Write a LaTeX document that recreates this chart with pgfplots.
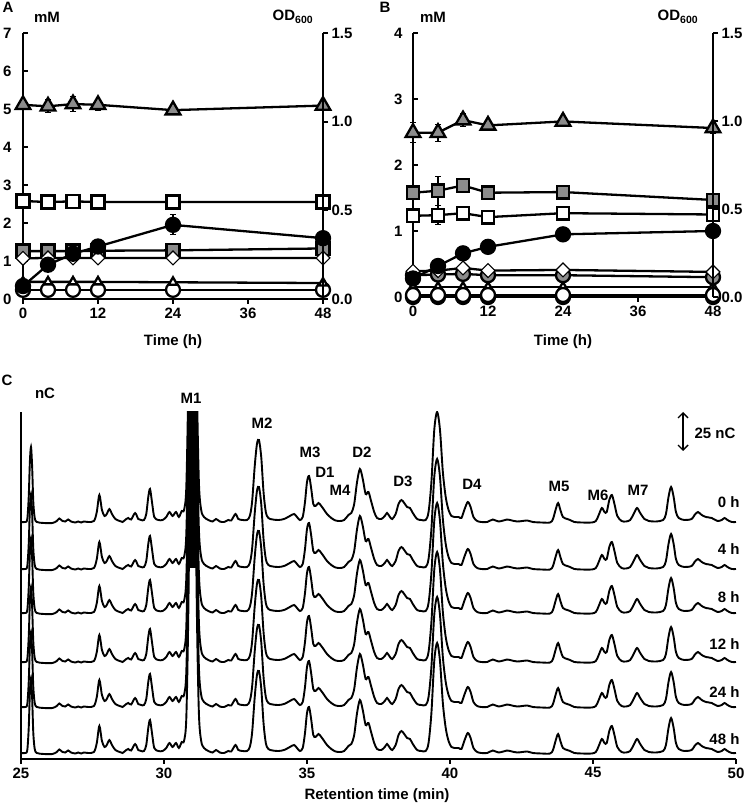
\documentclass[border=0pt]{standalone}
\usepackage{fontspec}
\setmainfont{Liberation Sans}
\usepackage{pgfplots}
\usepackage{pgfplotstable}
\pgfplotsset{compat=1.18}
\usetikzlibrary{arrows.meta}
\definecolor{mgray}{RGB}{140,140,140}

\pgfplotstableread{
t h
25.00 0
25.15 0
25.22 3
25.27 25
25.31 60
25.35 75
25.39 55
25.43 20
25.48 4
25.55 0
25.8 -1
26.1 -1
26.25 1
26.34 3.5
26.45 1
26.55 0.5
26.65 2.5
26.75 0.5
26.9 -0.5
27.0 0.5
27.1 -0.5
27.2 0.5
27.35 0
27.55 1
27.65 10
27.74 27
27.83 12
27.92 6
28.0 8
28.09 13
28.18 8
28.3 3
28.45 1
28.55 0
28.68 3
28.75 4
28.85 2.5
28.99 9
29.1 3
29.2 2
29.3 2
29.38 8
29.45 25
29.51 33
29.58 20
29.66 5
29.8 2
29.95 2
30.08 5
30.19 10
30.3 6
30.42 10
30.52 5
30.62 11
30.7 12
30.78 35
30.85 140
30.92 320
31.0 420
31.08 320
31.15 140
31.22 40
31.3 12
31.4 5
31.55 2
31.7 0.5
31.82 3
31.95 0.5
32.1 0
32.25 2
32.35 1.5
32.5 8
32.6 3
32.75 2
32.9 2
33.0 6
33.08 20
33.17 55
33.25 78
33.32 82
33.4 65
33.48 30
33.56 10
33.65 4
33.8 2.5
34.0 2
34.2 3
34.4 6
34.55 8
34.65 5
34.75 2
34.85 5
34.93 20
35.0 40
35.07 46
35.14 35
35.22 18
35.3 16
35.4 19
35.5 16
35.6 12
35.7 8
35.85 4
36.0 1.5
36.15 1
36.3 2
36.45 7
36.55 9
36.65 18
36.75 40
36.85 53
36.95 43
37.05 28
37.15 30
37.25 20
37.35 10
37.45 4
37.6 3
37.72 6
37.8 9
37.9 5
37.98 3
38.1 8
38.2 18
38.3 22
38.4 19
38.5 15
38.6 14
38.7 9
38.85 3
39.0 2
39.15 2
39.25 10
39.35 40
39.45 92
39.55 110
39.65 92
39.75 50
39.85 25
39.95 12
40.05 6
40.15 5
40.3 5
40.4 4
40.5 12
40.62 20
40.72 15
40.82 5
40.95 1
41.1 0
41.3 0
41.5 2.5
41.7 0.5
42.0 2.5
42.1 2
42.35 0.5
42.7 1.5
42.9 0
43.2 -0.5
43.5 -0.5
43.6 3
43.7 13
43.78 19
43.86 12
43.95 5
44.1 3
44.2 2
44.35 0
44.6 -0.5
44.95 -0.5
45.1 1
45.2 7
45.31 14
45.4 10
45.48 10
45.57 22
45.66 27
45.75 18
45.85 6
46.0 1
46.15 0.5
46.3 2
46.42 8
46.54 14
46.65 9
46.8 3
46.95 1
47.2 0.5
47.45 2
47.55 8
47.64 25
47.73 35
47.82 25
47.9 10
48.0 4
48.2 2
48.45 3
48.55 7
48.67 10
48.8 7
48.95 5
49.15 4
49.35 1
49.5 2
49.6 4
49.7 2
49.85 0
50.0 0
}\chrom

\pgfplotsset{
  /pgf/number format/assume math mode=true,
  panel/.style={
    scale only axis, anchor=south west,
    tick style={line width=1.8pt, black},
    major tick length=5pt,
    tick label style={font=\bfseries\fontsize{15}{17}\selectfont},
    clip=false,
  },
  noarrows/.style={axis line style={line width=2.4pt,-},
    every outer x axis line/.append style={-},
    every outer y axis line/.append style={-}},
  ser/.style={line width=2.3pt, black, mark options={solid, draw=black, line width=1.1pt}},
  err/.style={error bars/y dir=both, error bars/y explicit,
    error bars/error bar style={line width=1.1pt, black},
    error bars/error mark options={rotate=90, mark size=3pt, line width=1.1pt, black}},
  dia/.style={mark=square*, mark options={rotate=45, fill=white, draw=black, line width=1.1pt}, mark size=4.9pt},
  trace/.style={line width=1.9pt, black, smooth, tension=0.5},
  m1fill/.style={fill=black, draw=black, line width=1.9pt, smooth, tension=0.5, restrict x to domain=30.84:31.16},
}

\begin{document}
\begin{tikzpicture}[font=\bfseries\fontsize{15}{17}\selectfont]
\useasboundingbox (0,0) rectangle (750pt,809pt);

% ---------------- Panel A ----------------
\begin{axis}[panel, at={(23pt,510pt)}, width=300pt, height=266pt,
  xmin=0, xmax=48, ymin=0, ymax=7,
  axis x line=bottom, axis y line=left, noarrows,
  xtick={0,12,24,36,48}, ytick={0,1,...,7},
  xtick align=outside, ytick align=inside,
  y tick label style={xshift=-8pt}]
\addplot[ser, mark=*, mark size=7pt, mark options={fill=white}] coordinates {(0,0.24)(4,0.24)(8,0.24)(12,0.24)(24,0.24)(48,0.24)};
\addplot[ser, mark=triangle*, mark size=5pt, mark options={fill=white}] coordinates {(0,0.45)(4,0.45)(8,0.45)(12,0.45)(24,0.44)(48,0.42)};
\addplot[ser, mark=square*, mark size=6.5pt, mark options={fill=mgray}] coordinates {(0,1.26)(4,1.26)(8,1.26)(12,1.27)(24,1.28)(48,1.33)};
\addplot[ser, dia] coordinates {(0,1.07)(4,1.08)(8,1.08)(12,1.08)(24,1.08)(48,1.08)};
\addplot[ser, mark=square*, mark size=6.5pt, mark options={fill=white}] coordinates {(0,2.58)(4,2.55)(8,2.57)(12,2.55)(24,2.55)(48,2.55)};
\addplot[ser, err, mark=triangle*, mark size=8.5pt, mark options={fill=mgray}] coordinates {
 (0,5.11) +- (0,0)
 (4,5.07) +- (0,0.17)
 (8,5.13) +- (0,0.2)
 (12,5.11) +- (0,0.15)
 (24,4.97) +- (0,0)
 (48,5.09) +- (0,0.12)};
\end{axis}
\begin{axis}[panel, at={(23pt,510pt)}, width=300pt, height=266pt,
  xmin=0, xmax=48, ymin=0, ymax=1.5,
  axis x line=none, axis y line=right, noarrows,
  ytick={0,0.5,1,1.5}, ytick align=outside,
  y tick label style={/pgf/number format/.cd, fixed, fixed zerofill, precision=1, /tikz/.cd}]
\addplot[ser, err, mark=*, mark size=7pt, mark options={fill=black}] coordinates {
 (0,0.073) +- (0,0)
 (4,0.193) +- (0,0)
 (8,0.255) +- (0,0)
 (12,0.296) +- (0,0)
 (24,0.418) +- (0,0.056)
 (48,0.343) +- (0,0)};
\end{axis}

% ---------------- Panel B ----------------
\begin{axis}[panel, at={(413pt,512pt)}, width=300pt, height=264pt,
  xmin=0, xmax=48, ymin=0, ymax=4,
  axis x line=bottom, axis y line=left, noarrows,
  xtick={0,12,24,36,48}, ytick={0,1,...,4},
  xtick align=outside, ytick align=inside,
  y tick label style={xshift=-7pt}]
\addplot[ser, mark=*, mark size=7pt, mark options={fill=white}] coordinates {(0,0.0)(4,0.0)(8,0.0)(12,0.0)(24,0.0)(48,0.0)};
\addplot[ser, mark=triangle*, mark size=5pt, mark options={fill=white}] coordinates {(0,0.15)(4,0.15)(8,0.15)(12,0.15)(24,0.15)(48,0.15)};
\addplot[ser, mark=*, mark size=7pt, mark options={fill=white}] coordinates {(0,0.03)(4,0.03)(8,0.03)(12,0.03)(24,0.03)(48,0.03)};
\addplot[ser, mark=*, mark size=7pt, mark options={fill=mgray}] coordinates {(0,0.33)(4,0.34)(8,0.35)(12,0.33)(24,0.33)(48,0.3)};
\addplot[ser, dia] coordinates {(0,0.39)(4,0.4)(8,0.44)(12,0.4)(24,0.41)(48,0.38)};
\addplot[ser, err, mark=square*, mark size=6.3pt, mark options={fill=white}] coordinates {
 (0,1.23) +- (0,0)
 (4,1.24) +- (0,0.14)
 (8,1.27) +- (0,0.08)
 (12,1.21) +- (0,0)
 (24,1.27) +- (0,0)
 (48,1.25) +- (0,0)};
\addplot[ser, err, mark=square*, mark size=6.3pt, mark options={fill=mgray}] coordinates {
 (0,1.58) +- (0,0.09)
 (4,1.61) +- (0,0.22)
 (8,1.69) +- (0,0.05)
 (12,1.58) +- (0,0)
 (24,1.59) +- (0,0)
 (48,1.47) +- (0,0)};
\addplot[ser, err, mark=triangle*, mark size=8.5pt, mark options={fill=mgray}] coordinates {
 (0,2.49) +- (0,0.15)
 (4,2.49) +- (0,0.13)
 (8,2.68) +- (0,0.1)
 (12,2.6) +- (0,0.03)
 (24,2.66) +- (0,0.03)
 (48,2.56) +- (0,0.08)};
\end{axis}
\begin{axis}[panel, at={(413pt,512pt)}, width=300pt, height=264pt,
  xmin=0, xmax=48, ymin=0, ymax=1.5,
  axis x line=none, axis y line=right, noarrows,
  ytick={0,0.5,1,1.5}, ytick align=outside,
  y tick label style={/pgf/number format/.cd, fixed, fixed zerofill, precision=1, /tikz/.cd}]
\addplot[ser, mark=*, mark size=7pt, mark options={fill=black}] coordinates {
 (0,0.105)(4,0.176)(8,0.248)(12,0.285)(24,0.356)(48,0.375)};
\end{axis}

% ---------------- Panel C ----------------
\begin{axis}[panel, at={(21pt,50pt)}, width=715pt, height=347pt,
  xmin=25, xmax=50, ymin=0, ymax=347, clip=true,
  axis x line=bottom, axis y line=left, noarrows,
  xtick={25,30,...,50}, ytick=\empty, xtick align=outside]
\addplot[trace] table[x=t, y expr=\thisrow{h}+237] {\chrom};
\addplot[trace] table[x=t, y expr=\thisrow{h}+190] {\chrom};
\addplot[trace] table[x=t, y expr=\thisrow{h}+146] {\chrom};
\addplot[trace] table[x=t, y expr=\thisrow{h}+97] {\chrom};
\addplot[trace] table[x=t, y expr=\thisrow{h}+52] {\chrom};
\addplot[trace] table[x=t, y expr=\thisrow{h}+6] {\chrom};
% dense overlap of the M1 peaks
\addplot[m1fill] table[x=t, y expr=\thisrow{h}+237] {\chrom} -- cycle;
\addplot[m1fill] table[x=t, y expr=\thisrow{h}+190] {\chrom} -- cycle;
\addplot[m1fill] table[x=t, y expr=\thisrow{h}+146] {\chrom} -- cycle;
\addplot[m1fill] table[x=t, y expr=\thisrow{h}+97] {\chrom} -- cycle;
\addplot[m1fill] table[x=t, y expr=\thisrow{h}+52] {\chrom} -- cycle;
\end{axis}

% ---------------- Text ----------------
\node at (8pt,802pt) {A};
\node at (47pt,792pt) {mM};
\node at (293pt,792pt) {OD\textsubscript{600}};
\node at (173pt,467pt) {Time (h)};
\node at (385pt,802pt) {B};
\node at (433pt,792pt) {mM};
\node at (678pt,792pt) {OD\textsubscript{600}};
\node at (563pt,467pt) {Time (h)};
\node at (7pt,429pt) {C};
\node at (45pt,416pt) {nC};
\node at (191pt,411pt) {M1};
\node at (262pt,386pt) {M2};
\node at (310pt,357pt) {M3};
\node at (325pt,337pt) {D1};
\node at (340pt,319pt) {M4};
\node at (362pt,357pt) {D2};
\node at (403pt,328pt) {D3};
\node at (472pt,325pt) {D4};
\node at (559pt,323pt) {M5};
\node at (598pt,314pt) {M6};
\node at (638pt,319pt) {M7};
\node at (715pt,376pt) {25 nC};
\draw[{Straight Barb[length=5pt,width=10pt]}-{Straight Barb[length=5pt,width=10pt]}, line width=1.4pt] (683pt,397pt) -- (683pt,358pt);
\node[anchor=east] at (743pt,307pt) {0 h};
\node[anchor=east] at (743pt,260pt) {4 h};
\node[anchor=east] at (743pt,212pt) {8 h};
\node[anchor=east] at (743pt,165pt) {12 h};
\node[anchor=east] at (743pt,117pt) {24 h};
\node[anchor=east] at (743pt,70pt) {48 h};
\node at (377pt,13pt) {Retention time (min)};
\end{tikzpicture}
\end{document}
